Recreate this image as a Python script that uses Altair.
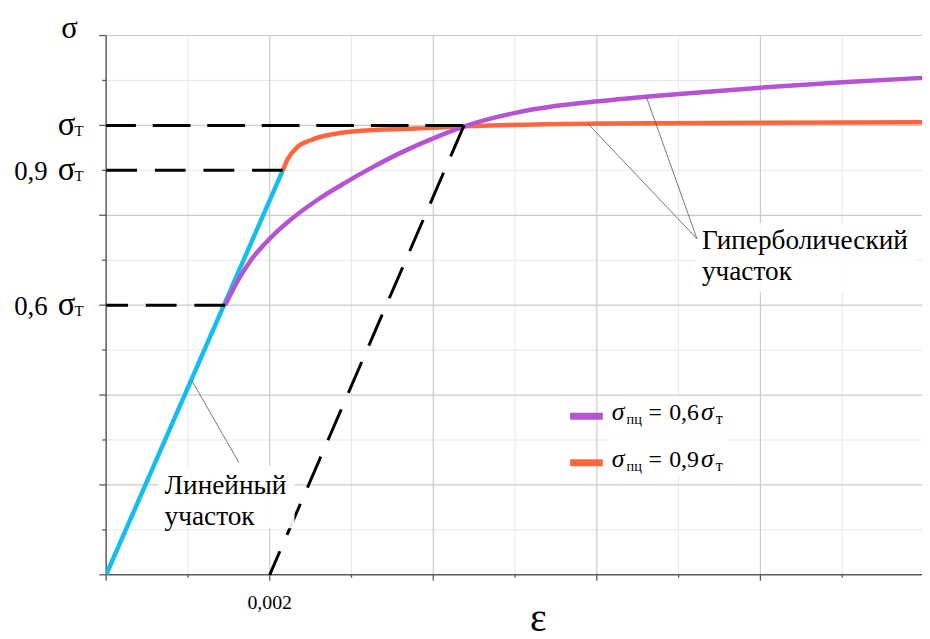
import altair as alt
import pandas as pd

# ---------------- data ----------------
# strain eps, stress in units of sigma_T
blue_eps = [0.0, 0.00216]
blue_sig = [0.0, 0.90]

purple_eps = [0.001455, 0.001612, 0.00177, 0.002012, 0.002255, 0.002582, 0.002909, 0.003248,
              0.003612, 0.004036, 0.0044, 0.005006, 0.005491, 0.005976, 0.007006, 0.0080, 0.009006, 0.0100]
purple_sig = [0.600, 0.655, 0.700, 0.750, 0.790, 0.834, 0.871, 0.906,
              0.940, 0.974, 0.999, 1.028, 1.043, 1.053, 1.070, 1.084, 1.096, 1.106]

orange_eps = [0.00216, 0.00222, 0.00234, 0.00250, 0.00270, 0.00298, 0.00339, 0.00379,
              0.00436, 0.0060, 0.0080, 0.0100]
orange_sig = [0.900, 0.925, 0.952, 0.967, 0.978, 0.986, 0.991, 0.993,
              0.998, 1.004, 1.006, 1.007]

offset_eps = [0.004376, 0.002]       # dashed 0.2 % offset line (top first)
offset_sig = [1.0, 0.0]

level_sig = [1.0, 0.9, 0.6]          # dashed horizontal levels
level_end_eps = [0.004364, 0.00216, 0.001455]
level_digits = ["", "0,9", "0,6"]

x_major = [0.0, 0.002, 0.004, 0.006, 0.008]
x_minor = [0.001, 0.003, 0.005, 0.007, 0.009]
y_major = [0.0, 0.2, 0.4, 0.6, 0.8, 1.0, 1.2]
y_minor = [0.1, 0.3, 0.5, 0.7, 0.9, 1.1]
x_tick_value = [0.002]
x_tick_text = ["0,002"]

legend_ratio = ["0,6", "0,9"]
legend_colors = ["#b553d4", "#ff6640"]
BLUE = "#14bdf0"
FONT = "Liberation Serif, Times New Roman, Times, DejaVu Serif, serif"

W, H = 823, 544
xs = alt.Scale(domain=[0, 0.0099758], nice=False, zero=False)
ys = alt.Scale(domain=[0, 1.2], nice=False, zero=False)


def X(f):
    return alt.X(f, type="quantitative", scale=xs, axis=None)


def Y(f):
    return alt.Y(f, type="quantitative", scale=ys, axis=None)


layers = []

# ---------------- grid ----------------
layers.append(alt.Chart(pd.DataFrame({"x": x_minor})).mark_rule(color="#e8e8e8", strokeWidth=1)
              .encode(x=X("x"), y=alt.value(0), y2=alt.value(H)))
layers.append(alt.Chart(pd.DataFrame({"y": y_minor})).mark_rule(color="#e8e8e8", strokeWidth=1)
              .encode(y=Y("y"), x=alt.value(0), x2=alt.value(W)))
layers.append(alt.Chart(pd.DataFrame({"x": x_major[1:]})).mark_rule(color="#cbcbcb", strokeWidth=1.2)
              .encode(x=X("x"), y=alt.value(0), y2=alt.value(H)))
layers.append(alt.Chart(pd.DataFrame({"y": y_major[1:]})).mark_rule(color="#cbcbcb", strokeWidth=1.2)
              .encode(y=Y("y"), x=alt.value(0), x2=alt.value(W)))

# ---------------- axes lines & ticks ----------------
AX = "#5a5a5a"
layers.append(alt.Chart(pd.DataFrame({"y": [0.0]})).mark_rule(color=AX, strokeWidth=1.5)
              .encode(y=Y("y"), x=alt.value(0), x2=alt.value(W)))
layers.append(alt.Chart(pd.DataFrame({"x": [0.0]})).mark_rule(color=AX, strokeWidth=1.5)
              .encode(x=X("x"), y=alt.value(0), y2=alt.value(H)))
layers.append(alt.Chart(pd.DataFrame({"x": x_major})).mark_rule(color=AX, strokeWidth=1.3)
              .encode(x=X("x"), y=alt.value(H), y2=alt.value(H + 6)))
layers.append(alt.Chart(pd.DataFrame({"x": x_minor})).mark_rule(color=AX, strokeWidth=1.3)
              .encode(x=X("x"), y=alt.value(H), y2=alt.value(H + 3)))
layers.append(alt.Chart(pd.DataFrame({"y": y_major})).mark_rule(color=AX, strokeWidth=1.3)
              .encode(y=Y("y"), x=alt.value(-7), x2=alt.value(0)))
layers.append(alt.Chart(pd.DataFrame({"y": y_minor})).mark_rule(color=AX, strokeWidth=1.3)
              .encode(y=Y("y"), x=alt.value(-4), x2=alt.value(0)))

# ---------------- curves ----------------
layers.append(alt.Chart(pd.DataFrame({"e": blue_eps, "s": blue_sig}))
              .mark_line(color=BLUE, strokeWidth=4.5, clip=True)
              .encode(x=X("e"), y=Y("s")))
layers.append(alt.Chart(pd.DataFrame({"e": orange_eps, "s": orange_sig}))
              .mark_line(color=legend_colors[1], strokeWidth=4.5, interpolate="monotone", clip=True)
              .encode(x=X("e"), y=Y("s")))
layers.append(alt.Chart(pd.DataFrame({"e": purple_eps, "s": purple_sig}))
              .mark_line(color=legend_colors[0], strokeWidth=4.5, interpolate="monotone", clip=True)
              .encode(x=X("e"), y=Y("s")))

# ---------------- dashed construction lines ----------------
rows = []
for i, (lv, end) in enumerate(zip(level_sig, level_end_eps)):
    rows.append({"e": end, "s": lv, "k": i, "o": 0})
    rows.append({"e": 0.0, "s": lv, "k": i, "o": 1})
lev = pd.DataFrame(rows)
layers.append(alt.Chart(lev[lev.k == 0]).mark_line(color="black", strokeWidth=3, strokeDash=[38, 17])
              .encode(x=X("e"), y=Y("s"), detail="k:N", order="o:Q"))
layers.append(alt.Chart(lev[lev.k > 0]).mark_line(color="black", strokeWidth=3, strokeDash=[31, 18])
              .encode(x=X("e"), y=Y("s"), detail="k:N", order="o:Q"))
layers.append(alt.Chart(pd.DataFrame({"e": offset_eps, "s": offset_sig, "o": [0, 1]}))
              .mark_line(color="black", strokeWidth=3, strokeDash=[34, 18])
              .encode(x=X("e"), y=Y("s"), order="o:Q"))

# ---------------- annotation boxes ----------------
boxes = pd.DataFrame({
    "x1": [0.000642, 0.007224, 0.006121],
    "x2": [0.002303, 0.009915, 0.007612],
    "y1": [0.2426, 0.7831, 0.3971],
    "y2": [0.1037, 0.6287, 0.2206],
})
layers.append(alt.Chart(boxes).mark_rect(color="white", opacity=0.92)
              .encode(x=X("x1"), x2="x2", y=Y("y1"), y2="y2"))

# leader lines
leaders = pd.DataFrame({
    "e": [0.001055, 0.001624, 0.006606, 0.007224, 0.005891, 0.007224],
    "s": [0.4301, 0.2493, 1.0632, 0.7478, 1.0037, 0.7478],
    "g": [0, 0, 1, 1, 2, 2],
})
layers.append(alt.Chart(leaders).mark_line(color="#555555", strokeWidth=0.8)
              .encode(x=X("e"), y=Y("s"), detail="g:N"))

# annotation texts
ann = pd.DataFrame({
    "e": [0.000715, 0.000715, 0.007285, 0.007285],
    "s": [0.1809, 0.1103, 0.7257, 0.6551],
    "t": ["Линейный", "участок", "Гиперболический", "участок"],
})
layers.append(alt.Chart(ann).mark_text(font=FONT, fontSize=27.5, align="left", baseline="alphabetic", color="black")
              .encode(x=X("e"), y=Y("s"), text="t:N"))

# ---------------- y-axis labels ----------------
ylab = pd.DataFrame({"s": level_sig, "d": level_digits})
layers.append(alt.Chart(ylab).mark_text(font=FONT, fontSize=27, align="right", baseline="alphabetic", dy=10)
              .encode(x=alt.value(-59), y=Y("s"), text="d:N"))
layers.append(alt.Chart(ylab).mark_text(font=FONT, fontSize=33, align="right", baseline="alphabetic", dy=10, text="σ")
              .encode(x=alt.value(-31), y=Y("s")))
layers.append(alt.Chart(ylab).mark_text(font=FONT, fontSize=15, align="left", baseline="alphabetic", dy=11, text="Т")
              .encode(x=alt.value(-32), y=Y("s")))

# axis titles
layers.append(alt.Chart(pd.DataFrame({"s": [1.2]})).mark_text(font=FONT, fontSize=31, align="center", baseline="alphabetic", dy=2, text="σ")
              .encode(x=alt.value(-37), y=Y("s")))
layers.append(alt.Chart(pd.DataFrame({"s": [0.0]})).mark_text(font=FONT, fontSize=40, align="center", baseline="alphabetic", dy=57, text="ε")
              .encode(x=alt.value(436), y=Y("s")))

# x tick label
layers.append(alt.Chart(pd.DataFrame({"e": x_tick_value, "t": x_tick_text}))
              .mark_text(font=FONT, fontSize=20, align="center", baseline="alphabetic", dy=34)
              .encode(x=X("e"), y=alt.value(H), text="t:N"))

# ---------------- legend ----------------
leg_y = [0.3529, 0.2493]
leg = pd.DataFrame({"x1": [0.005673] * 2, "x2": [0.006073] * 2, "y": leg_y, "c": legend_colors, "r": legend_ratio})
layers.append(alt.Chart(leg).mark_rule(strokeWidth=7)
              .encode(x=X("x1"), x2="x2", y=Y("y"), color=alt.Color("c:N", scale=None)))
layers.append(alt.Chart(leg).mark_text(font=FONT, fontSize=26, fontStyle="italic", align="left", baseline="alphabetic", dy=4, text="σ")
              .encode(x=alt.value(617 - 107), y=Y("y")))
layers.append(alt.Chart(leg).mark_text(font=FONT, fontSize=14.5, align="left", baseline="alphabetic", dy=8, text="пц")
              .encode(x=alt.value(632 - 107), y=Y("y")))
layers.append(alt.Chart(leg).mark_text(font=FONT, fontSize=24, align="left", baseline="alphabetic", dy=4, text="=")
              .encode(x=alt.value(654 - 107), y=Y("y")))
layers.append(alt.Chart(leg).mark_text(font=FONT, fontSize=24, align="left", baseline="alphabetic", dy=4)
              .encode(x=alt.value(675 - 107), y=Y("y"), text="r:N"))
layers.append(alt.Chart(leg).mark_text(font=FONT, fontSize=26, fontStyle="italic", align="left", baseline="alphabetic", dy=4, text="σ")
              .encode(x=alt.value(707 - 107), y=Y("y")))
layers.append(alt.Chart(leg).mark_text(font=FONT, fontSize=16, align="left", baseline="alphabetic", dy=8, text="т")
              .encode(x=alt.value(722 - 107), y=Y("y")))

chart = (
    alt.layer(*layers)
    .properties(width=W, height=H, autosize=alt.AutoSizeParams(type="none"),
                padding={"left": 99, "top": 25, "right": 0, "bottom": 62}, background="white")
    .configure_view(stroke=None)
)

chart.save("out.html", embed_options={"renderer": "svg", "actions": False})
